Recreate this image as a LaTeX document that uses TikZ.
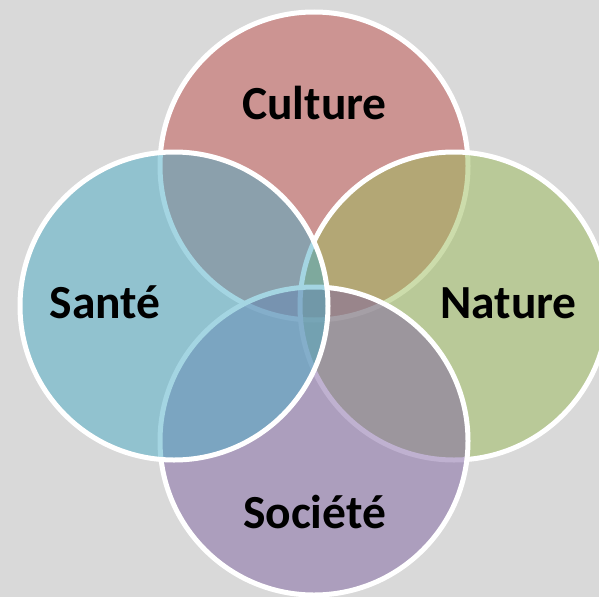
\documentclass[tikz,border=0pt]{standalone}
\usepackage{fontspec}
\setmainfont{Carlito}
\begin{document}
\begin{tikzpicture}[x=1pt,y=-1pt,
  venn/.style={draw=white,line width=5pt,fill opacity=0.5},
  lbl/.style={anchor=base,font=\fontsize{47.5}{56}\selectfont\bfseries,text=black,inner sep=0pt}]
\definecolor{bgray}{HTML}{D9D9D9}
\definecolor{cred}{HTML}{C0504D}
\definecolor{cblue}{HTML}{4BACC6}
\definecolor{cgreen}{HTML}{9BBB59}
\definecolor{cpurple}{HTML}{8064A2}
\useasboundingbox (0,0) rectangle (599,597);
\clip (0,0) rectangle (599,597);
\fill[bgray] (0,0) rectangle (599,597);
\draw[venn,fill=cred] (314,166) circle[radius=154];
\draw[venn,fill=cgreen] (454,306) circle[radius=154];
\draw[venn,fill=cpurple] (314,441) circle[radius=154];
\draw[venn,fill=cblue] (174,306) circle[radius=154];
\node[lbl] (culture) at (314.5,119) {Culture};
\node[lbl] (sante) at (105,318) {Santé};
\node[lbl] (nature) at (508.5,318) {Nature};
\node[lbl] (societe) at (314.5,528) {Société};
\end{tikzpicture}
\end{document}
